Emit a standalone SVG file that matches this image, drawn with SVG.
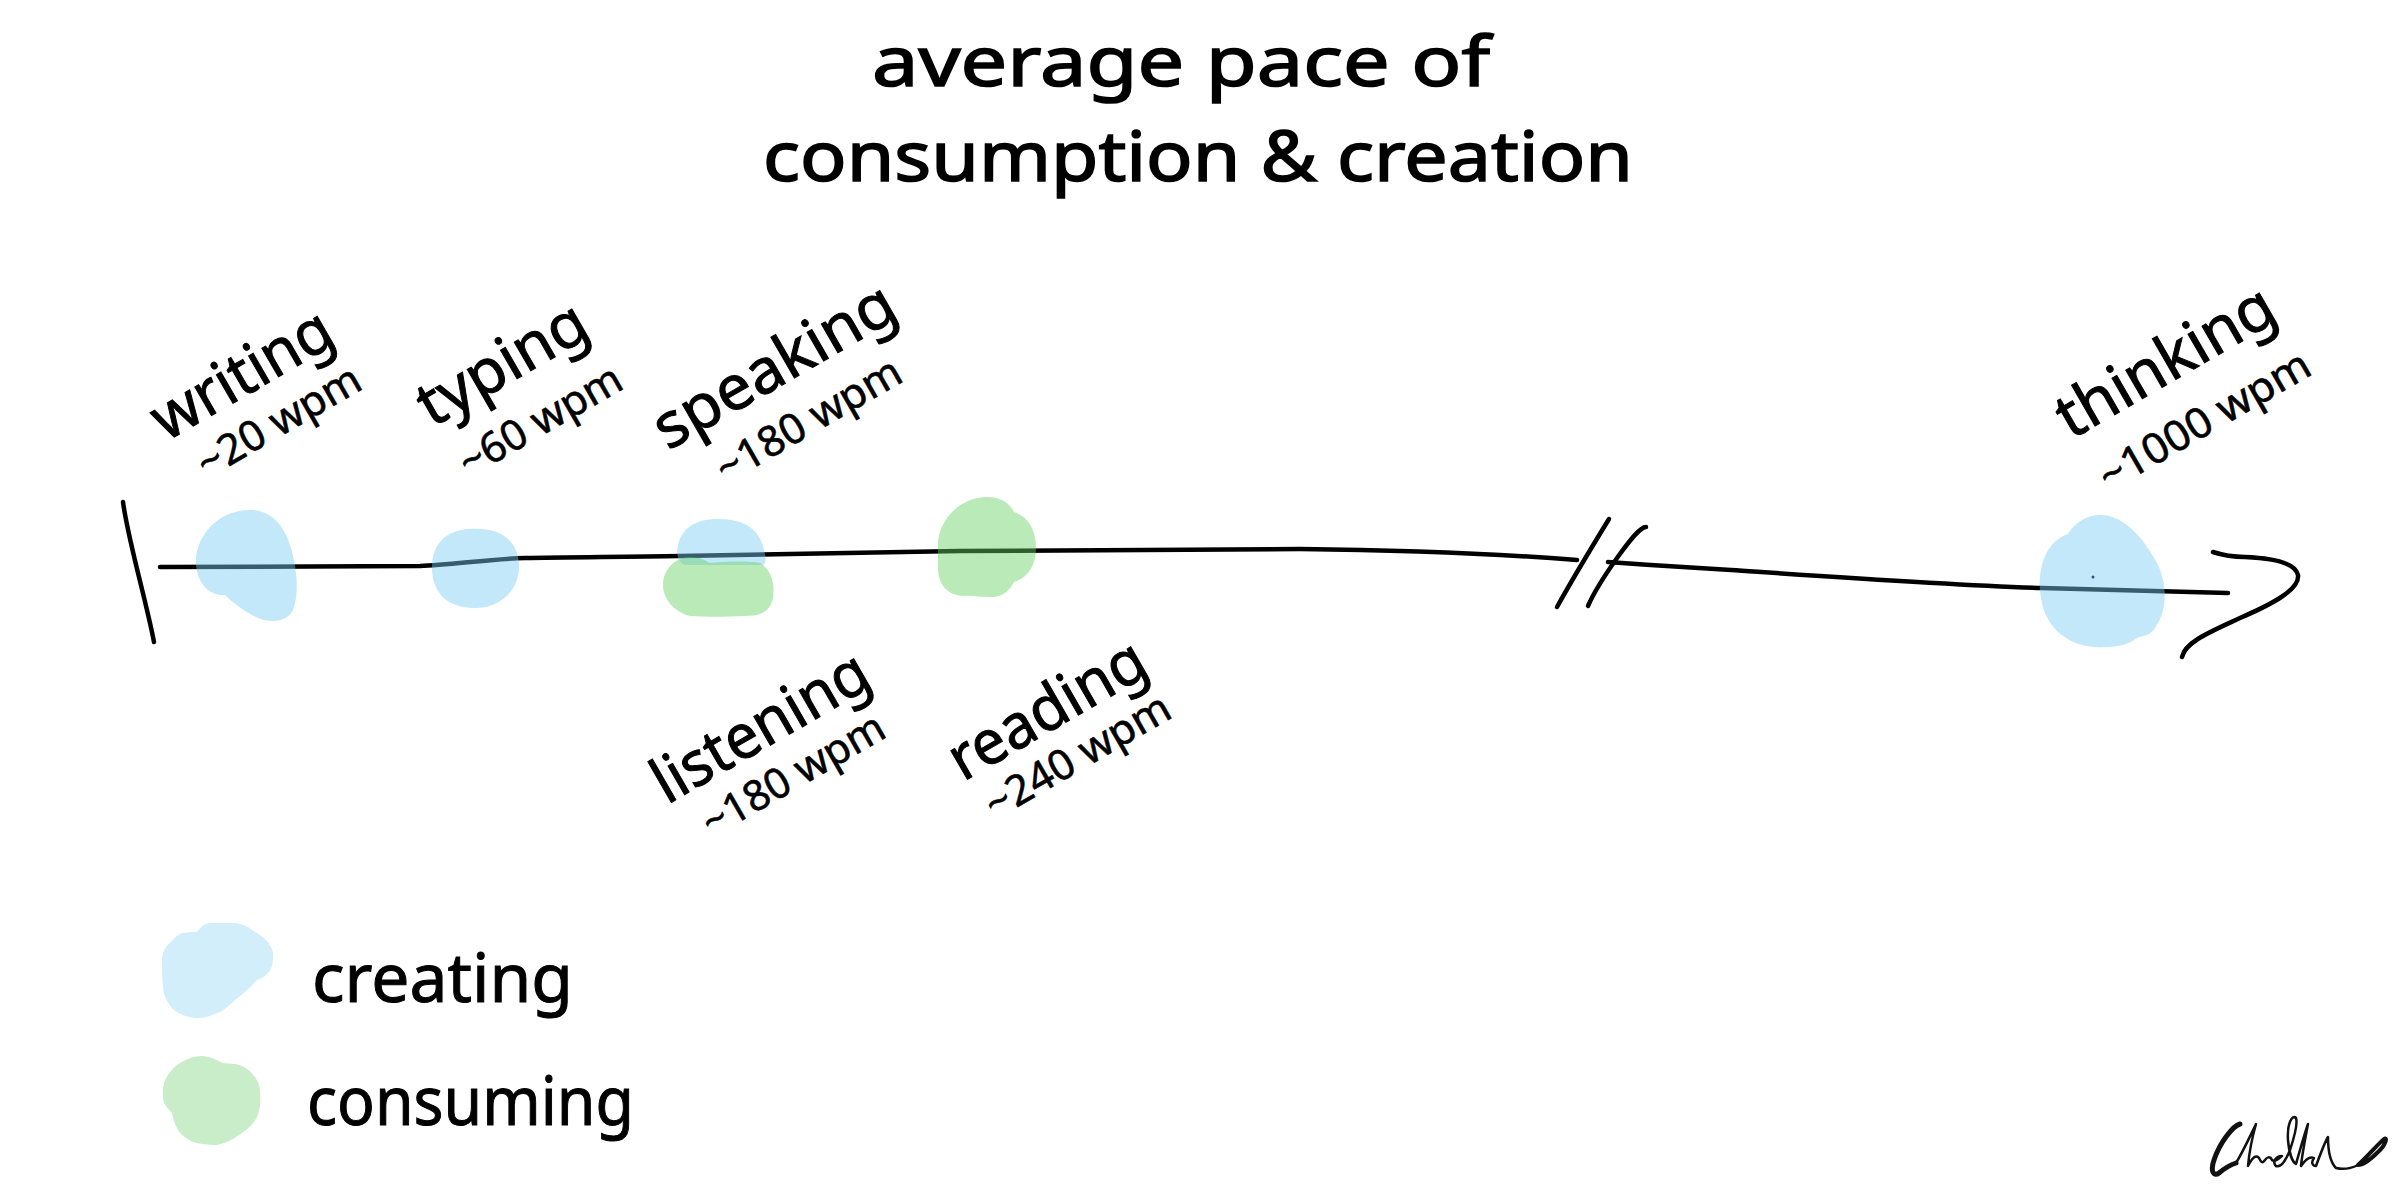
<svg xmlns="http://www.w3.org/2000/svg" width="2408" height="1185" viewBox="0 0 2408 1185">
<style>
  .t { font-family: "Noto Sans", "DejaVu Sans", sans-serif; fill: #000; stroke: #000; stroke-width: 1; }
  .title { font-size: 70px; text-anchor: middle; stroke-width: 1.6; }
  .lbl { font-size: 62px; }
  .rate { font-size: 42px; stroke-width: 0.6; }
  .leg { font-size: 68px; }
  .ink { fill: none; stroke: #000; stroke-width: 4.5; stroke-linecap: round; stroke-linejoin: round; }
  .blue { fill: rgb(120,205,245); fill-opacity: 0.45; }
  .green { fill: rgb(102,209,98); fill-opacity: 0.45; }
  .sig { fill: none; stroke: #111; stroke-linecap: round; stroke-linejoin: round; }
</style>
<rect width="2408" height="1185" fill="#fff"/>

<g id="title">
  <text class="t title" x="1181" y="86" textLength="618" lengthAdjust="spacingAndGlyphs">average pace of</text>
  <text class="t title" x="1198" y="181" textLength="870" lengthAdjust="spacingAndGlyphs">consumption &amp; creation</text>
</g>

<g id="connectors">
  <path class="ink" d="M 123,502 C 128,540 146,600 154,642"/>
  <path class="ink" d="M 160,567 L 420,566 C 450,565 490,559 525,558 C 560,557 620,557 680,556 C 760,555 860,552 960,551 L 1300,549 C 1400,550 1500,554 1577,560"/>
  <path class="ink" d="M 1609,519 C 1590,550 1572,580 1557,607"/>
  <path class="ink" d="M 1646,527 C 1640,527 1630,540 1617,558 C 1605,575 1594,592 1588,606"/>
  <path class="ink" d="M 1608,562 C 1650,565 1700,568 1731,570 C 1850,578 1950,585 2042,588 L 2228,593"/>
  <path class="ink" d="M 2213,552 C 2225,556 2232,557 2245,557 C 2270,558 2295,562 2298,575 C 2300,590 2270,605 2240,618 C 2210,632 2185,642 2182,657"/>
</g>

<g id="writing">
  <path class="blue" d="M 250,510 C 275,510 288,530 294,560 C 298,580 298,600 292,612 C 285,622 270,623 258,618 C 245,612 232,602 225,595 C 210,596 198,585 196,565 C 194,540 215,510 250,510 Z"/>
  <text class="t lbl" x="166" y="442" transform="rotate(-30 166 442)" textLength="199" lengthAdjust="spacingAndGlyphs">writing</text>
  <text class="t rate" x="207" y="479" transform="rotate(-30 207 479)" textLength="182" lengthAdjust="spacingAndGlyphs">~20 wpm</text>
</g>

<g id="typing">
  <path class="blue" d="M 470,529 C 500,527 518,540 519,565 C 520,590 500,608 475,608 C 445,608 431,590 432,565 C 433,545 445,530 470,529 Z"/>
  <text class="t lbl" x="432" y="428" transform="rotate(-30 432 428)" textLength="186" lengthAdjust="spacingAndGlyphs">typing</text>
  <text class="t rate" x="469" y="478" transform="rotate(-30 469 478)" textLength="181" lengthAdjust="spacingAndGlyphs">~60 wpm</text>
</g>

<g id="speaking">
  <path class="blue" d="M 715,519 C 745,518 760,530 764,550 C 767,562 766,565 760,565 L 685,565 C 678,562 676,555 678,545 C 682,528 695,520 715,519 Z"/>
  <text class="t lbl" x="668" y="451" transform="rotate(-30 668 451)" textLength="269" lengthAdjust="spacingAndGlyphs">speaking</text>
  <text class="t rate" x="726" y="484" transform="rotate(-30 726 484)" textLength="207" lengthAdjust="spacingAndGlyphs">~180 wpm</text>
</g>

<g id="listening">
  <path class="green" d="M 690,557 C 700,557 706,561 710,563 C 730,561 750,561 760,563 C 772,570 775,585 773,598 C 770,612 760,616 745,616 C 725,617 705,617 690,616 C 675,612 663,600 663,585 C 663,570 675,557 690,557 Z"/>
  <text class="t lbl" x="667" y="805" transform="rotate(-30 667 805)" textLength="240" lengthAdjust="spacingAndGlyphs">listening</text>
  <text class="t rate" x="712" y="838" transform="rotate(-30 712 838)" textLength="204" lengthAdjust="spacingAndGlyphs">~180 wpm</text>
</g>

<g id="reading">
  <path class="green" d="M 985,497 C 1000,496 1010,503 1014,512 C 1028,516 1036,530 1036,548 C 1036,565 1028,578 1014,582 C 1008,594 998,598 988,597 C 978,597 970,595 965,596 C 948,596 938,585 938,568 L 938,545 C 938,520 960,498 985,497 Z"/>
  <text class="t lbl" x="963" y="782" transform="rotate(-30 963 782)" textLength="218" lengthAdjust="spacingAndGlyphs">reading</text>
  <text class="t rate" x="995" y="820" transform="rotate(-30 995 820)" textLength="207" lengthAdjust="spacingAndGlyphs">~240 wpm</text>
</g>

<g id="thinking">
  <path class="blue" d="M 2100,515 C 2125,515 2145,540 2158,565 C 2167,585 2168,610 2155,628 C 2150,636 2142,636 2137,638 C 2128,646 2110,648 2095,647 C 2065,645 2042,625 2040,590 C 2038,560 2050,540 2068,534 C 2075,522 2088,515 2100,515 Z"/>
  <circle cx="2093" cy="577" r="1.5" fill="#1a5f7a"/>
  <text class="t lbl" x="2071" y="440" transform="rotate(-30 2071 440)" textLength="242" lengthAdjust="spacingAndGlyphs">thinking</text>
  <text class="t rate" x="2109" y="492" transform="rotate(-30 2109 492)" textLength="237" lengthAdjust="spacingAndGlyphs">~1000 wpm</text>
</g>

<g id="legend-creating">
  <path fill="#d2eefb" d="M 197,932 C 202,925 206,923 212,923 L 235,923 C 243,924 249,927 255,932 C 262,936 266,940 268,942 C 272,948 274,952 273,958 C 273,965 271,970 268,973 C 264,977 260,979 257,980 C 250,988 243,994 235,1000 C 227,1008 220,1013 212,1015 C 206,1018 200,1018 195,1018 C 186,1017 179,1014 174,1010 C 167,1003 164,996 163,987 C 162,978 162,969 162,960 C 162,953 165,947 170,943 C 174,938 178,934 183,933 C 188,932 193,932 197,932 Z"/>
  <text class="t leg" x="312" y="1002" textLength="261" lengthAdjust="spacingAndGlyphs">creating</text>
</g>

<g id="legend-consuming">
  <path fill="#c9edc9" d="M 201,1056 C 210,1056 217,1060 222,1063 L 235,1064 C 244,1066 250,1070 253,1075 C 258,1080 260,1086 260,1093 C 261,1102 260,1110 257,1117 C 253,1125 246,1131 239,1135 C 232,1140 224,1144 216,1145 C 208,1145 200,1144 193,1142 C 186,1139 181,1135 178,1130 C 175,1125 173,1119 172,1113 C 167,1108 163,1103 163,1097 C 162,1088 164,1081 168,1075 C 172,1069 177,1064 182,1062 C 188,1058 195,1056 201,1056 Z"/>
  <text class="t leg" x="307" y="1125" textLength="327" lengthAdjust="spacingAndGlyphs">consuming</text>
</g>

<g id="signature">
  <path class="sig" stroke-width="5" d="M 2240,1124 C 2233,1126 2220,1142 2214,1160 C 2210,1172 2214,1177 2219,1173 C 2225,1168 2230,1165 2236,1163"/>
  <path class="sig" stroke-width="2.5" d="M 2236,1163 C 2244,1150 2252,1132 2256,1124 C 2252,1138 2249,1155 2248,1166 C 2252,1158 2256,1154 2259,1158 C 2261,1162 2262,1164 2265,1160 C 2267,1157 2270,1156 2272,1160 C 2275,1163 2279,1158 2282,1156 C 2276,1156 2272,1162 2276,1166 C 2281,1168 2286,1160 2290,1150 C 2294,1138 2298,1124 2296,1118 C 2292,1114 2287,1124 2288,1140 C 2289,1152 2292,1162 2296,1164 C 2300,1150 2305,1132 2308,1124 C 2305,1140 2302,1155 2301,1166 C 2305,1160 2310,1156 2314,1158 C 2311,1162 2312,1166 2316,1166 C 2320,1155 2325,1142 2328,1137 C 2328,1150 2330,1162 2336,1168 C 2344,1170 2352,1168 2358,1165"/>
  <path class="sig" stroke-width="4" d="M 2358,1165 C 2366,1158 2380,1142 2384,1139 C 2388,1136 2386,1145 2378,1152 C 2370,1160 2362,1165 2358,1165"/>
</g>
</svg>
